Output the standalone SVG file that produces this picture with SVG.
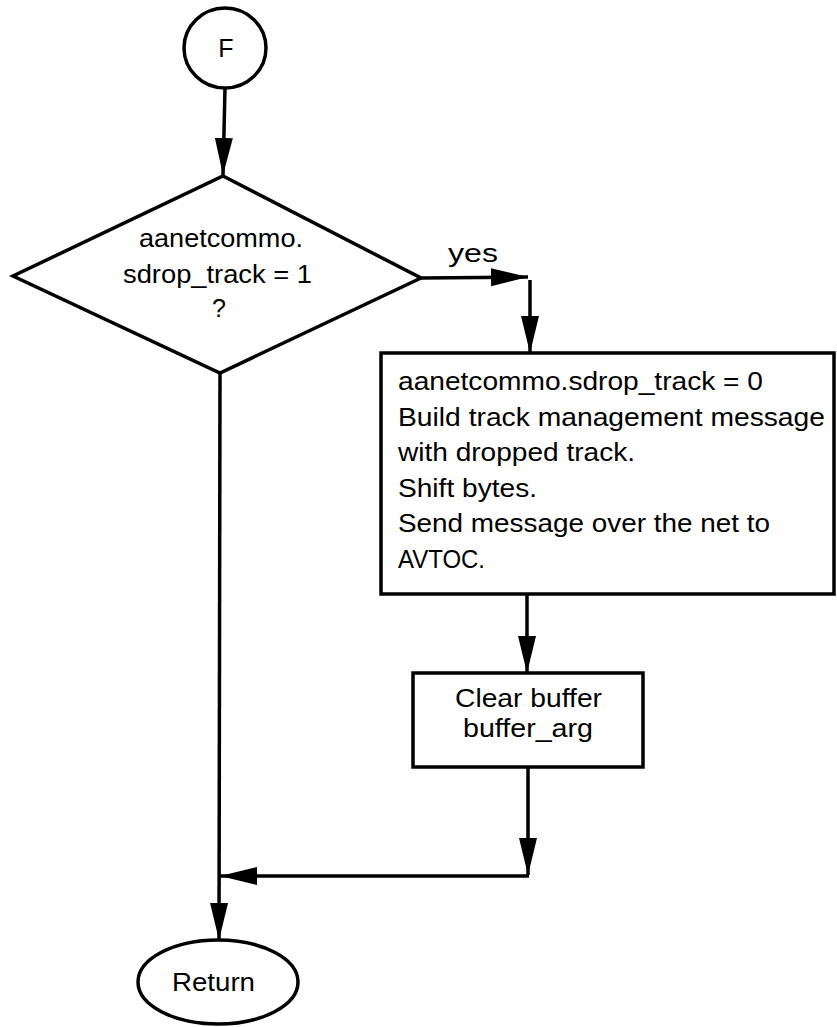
<svg xmlns="http://www.w3.org/2000/svg" width="837" height="1027" viewBox="0 0 837 1027">
  <style>
    .shape { fill: #fff; stroke: #000; stroke-width: 3.5; }
    .wire { fill: none; stroke: #000; stroke-width: 3.5; }
    .label { font-family: "Liberation Sans", Arial, sans-serif; font-size: 25px; fill: #000; }
    .mid { text-anchor: middle; }
  </style>
  <defs>
    <marker id="arrow" markerUnits="userSpaceOnUse" markerWidth="38" markerHeight="20" viewBox="0 0 38 20" refX="37" refY="10" orient="auto">
      <path d="M0,1 L37,10 L0,19 Z" fill="#000"/>
    </marker>
  </defs>

  <rect width="837" height="1027" fill="#fff"/>

  <!-- connectors -->
  <g id="connectors">
    <line class="wire" x1="225" y1="88" x2="223" y2="175" marker-end="url(#arrow)"/>
    <line class="wire" x1="421" y1="278" x2="528" y2="277" marker-end="url(#arrow)"/>
    <line class="wire" x1="530" y1="280" x2="530" y2="353" marker-end="url(#arrow)"/>
    <line class="wire" x1="527" y1="594" x2="527" y2="673" marker-end="url(#arrow)"/>
    <line class="wire" x1="528" y1="767" x2="528" y2="875" marker-end="url(#arrow)"/>
    <line class="wire" x1="529" y1="876" x2="220" y2="876" marker-end="url(#arrow)"/>
    <line class="wire" x1="220" y1="373" x2="219" y2="940" marker-end="url(#arrow)"/>
    <text class="label" x="448" y="262" textLength="50" lengthAdjust="spacingAndGlyphs">yes</text>
  </g>

  <!-- entry connector F -->
  <g id="node-f">
    <ellipse class="shape" cx="225" cy="48" rx="41" ry="40"/>
    <text class="label mid" x="226" y="57">F</text>
  </g>

  <!-- decision: sdrop_track set? -->
  <g id="node-decision">
    <polygon class="shape" points="223,176 421,278 220,373 13,276"/>
    <text class="label" x="139" y="247" textLength="164" lengthAdjust="spacingAndGlyphs">aanetcommo.</text>
    <text class="label" x="123" y="283" textLength="189" lengthAdjust="spacingAndGlyphs">sdrop_track = 1</text>
    <text class="label mid" x="219" y="317">?</text>
  </g>

  <!-- process: send dropped-track message -->
  <g id="node-send">
    <rect class="shape" x="381" y="353" width="453" height="241"/>
    <text class="label" x="398" y="390" textLength="365" lengthAdjust="spacingAndGlyphs">aanetcommo.sdrop_track = 0</text>
    <text class="label" x="398" y="425.5" textLength="427" lengthAdjust="spacingAndGlyphs">Build track management message</text>
    <text class="label" x="398" y="461" textLength="237" lengthAdjust="spacingAndGlyphs">with dropped track.</text>
    <text class="label" x="398" y="496.5" textLength="139" lengthAdjust="spacingAndGlyphs">Shift bytes.</text>
    <text class="label" x="398" y="532" textLength="372" lengthAdjust="spacingAndGlyphs">Send message over the net to</text>
    <text class="label" x="398" y="567.5" textLength="87" lengthAdjust="spacingAndGlyphs">AVTOC.</text>
  </g>

  <!-- process: clear buffer -->
  <g id="node-clear">
    <rect class="shape" x="413" y="673" width="230" height="94"/>
    <text class="label" x="455" y="707" textLength="147" lengthAdjust="spacingAndGlyphs">Clear buffer</text>
    <text class="label" x="463" y="737" textLength="130" lengthAdjust="spacingAndGlyphs">buffer_arg</text>
  </g>

  <!-- terminator -->
  <g id="node-return">
    <ellipse class="shape" cx="218" cy="982" rx="80" ry="42"/>
    <text class="label" x="172" y="991" textLength="83" lengthAdjust="spacingAndGlyphs">Return</text>
  </g>
</svg>
